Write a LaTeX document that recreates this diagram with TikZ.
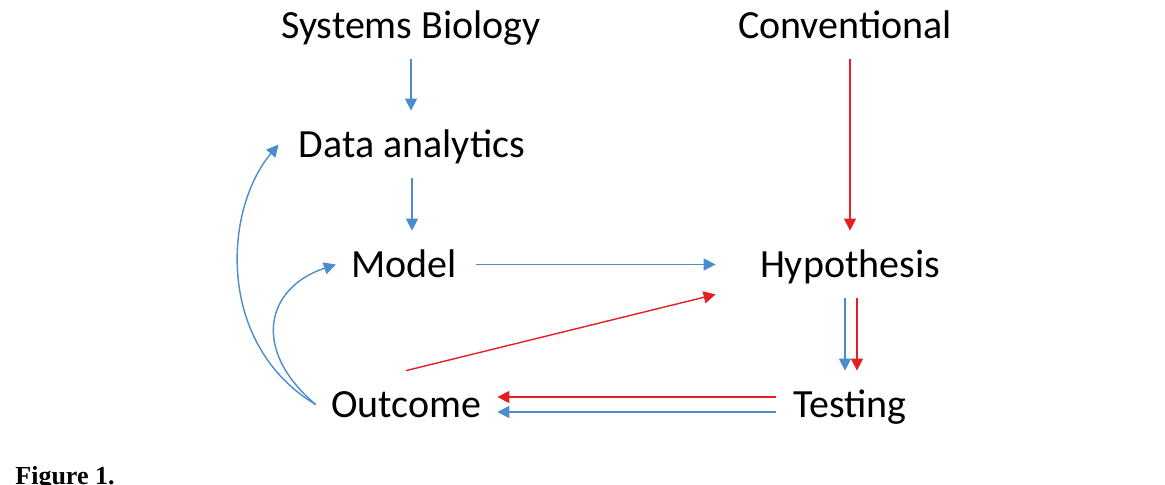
\documentclass[tikz,border=0pt]{standalone}
\usepackage{fontspec}
\setmainfont{Carlito}
\newfontfamily\capfont{Liberation Serif}
\usetikzlibrary{arrows.meta}
\definecolor{flowblue}{RGB}{74,140,205}
\definecolor{flowred}{RGB}{228,30,36}
\begin{document}
\begin{tikzpicture}[x=0.5pt,y=-0.5pt,
  stage/.style={inner sep=0pt, anchor=base, text height=23pt, text depth=10.5pt, font=\fontsize{20}{24}\selectfont},
  blueflow/.style={draw=flowblue, line width=0.7pt, -{Triangle[length=6pt,width=6pt]}, fill=none},
  redflow/.style={draw=flowred, line width=0.7pt, -{Triangle[length=6pt,width=6pt]}, fill=none}]
\useasboundingbox (0,0) rectangle (1165,484);
% stages
\node[stage] (sb) at (411,38) {Systems Biology};
\node[stage] (cv) at (845,38) {Conventional};
\node[stage] (da) at (412,157) {Data analytics};
\node[stage] (mo) at (404,277) {Model};
\node[stage] (hy) at (850,277) {Hypothesis};
\node[stage] (oc) at (406,417) {Outcome};
\node[stage] (te) at (850,417) {Testing};
\node[anchor=base west, inner sep=0pt, font=\capfont\bfseries\fontsize{13}{15}\selectfont] (fig) at (15,484) {Figure 1.};
% systems biology route
\draw[blueflow] (sb.south) -- (sb.south |- da.north);
\draw[blueflow] (da.south) -- (da.south |- mo.north);
\draw[blueflow, shorten <=9.5pt, shorten >=22pt] (mo.east) -- (hy.west);
\draw[blueflow] ([xshift=-2.5pt]hy.south) -- ([xshift=-2.5pt]te.north);
\draw[blueflow, shorten <=8.5pt, shorten >=8pt] ([yshift=-3.75pt]te.west) -- ([yshift=-3.75pt]te.west -| oc.east);
\draw[blueflow] ([xshift=-7.5pt]oc.west) .. controls +(-65,-55) and +(-70,23) .. ([xshift=-7.5pt]mo.west);
\draw[blueflow] ([xshift=-7.5pt]oc.west) .. controls +(-100,-60) and +(-55,65) .. ([xshift=-10pt]da.west);
% conventional route
\draw[redflow] (hy.north |- cv.south) -- (hy.north);
\draw[redflow] ([xshift=3.5pt]hy.south) -- ([xshift=3.5pt]te.north);
\draw[redflow, shorten <=8.5pt, shorten >=8pt] ([yshift=3.75pt]te.west) -- ([yshift=3.75pt]te.west -| oc.east);
\draw[redflow] (oc.north) -- ([xshift=-22pt,yshift=2pt]hy.south west);
\end{tikzpicture}
\end{document}
